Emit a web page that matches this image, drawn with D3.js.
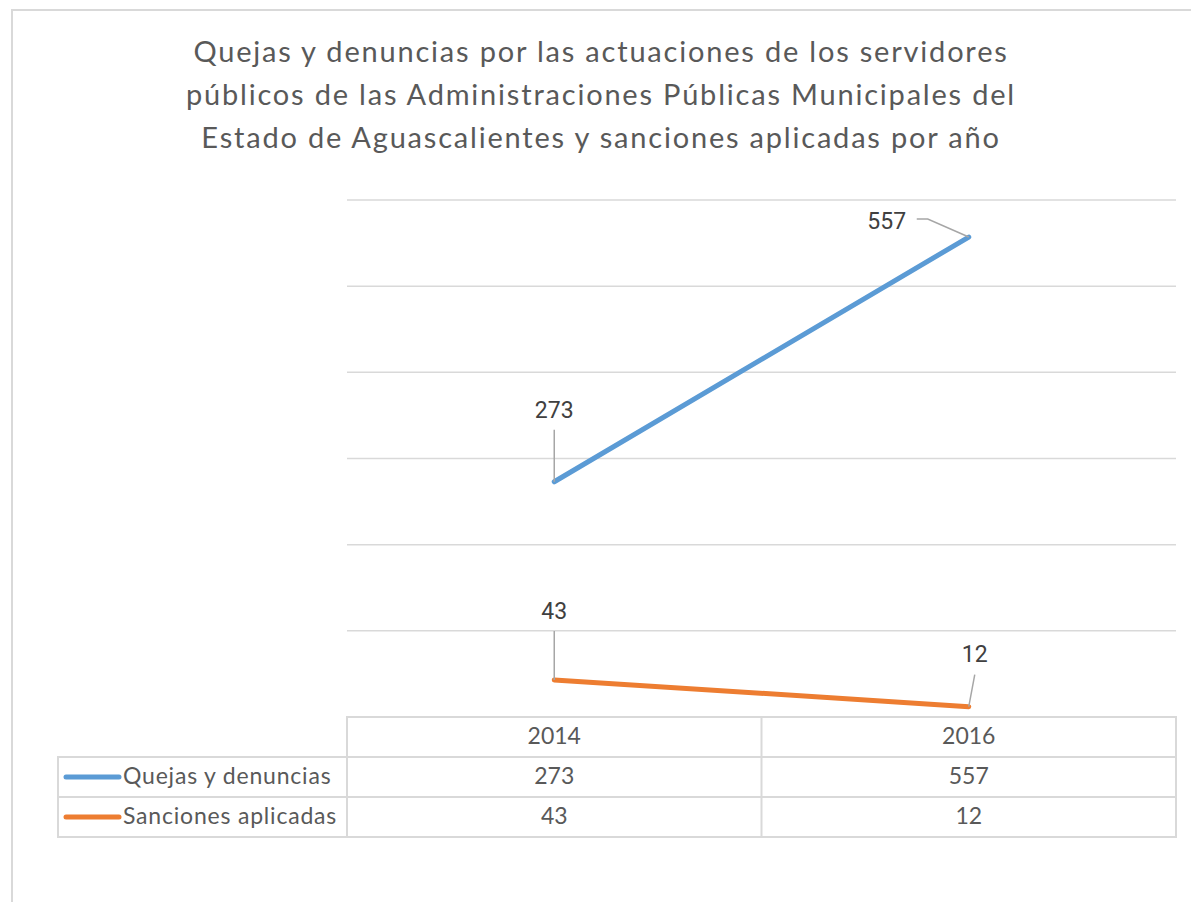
<!DOCTYPE html>
<html><head><meta charset="utf-8">
<script src="https://cdn.jsdelivr.net/npm/d3@7"></script>
<style>html,body{margin:0;padding:0;background:#fff;}svg{display:block;}</style>
</head><body>
<script>
const years = ["2014", "2016"];
const seriesNames = ["Quejas y denuncias", "Sanciones aplicadas"];
const quejas = [273, 557];
const sanciones = [43, 12];
const yTicks = [0, 100, 200, 300, 400, 500, 600];
const titleLines = [
  "Quejas y denuncias por las actuaciones de los servidores",
  "públicos de las Administraciones Públicas Municipales del",
  "Estado de Aguascalientes y sanciones aplicadas por año"
];

const W = 1191, H = 902;
const colors = ["#5b9bd5", "#ed7d31"];
const series = [quejas, sanciones];
const font = "Lato, 'Noto Sans', sans-serif";

const svg = d3.select("body").append("svg").attr("width", W).attr("height", H);

// outer frame
svg.append("rect").attr("x", 12).attr("y", 10).attr("width", W).attr("height", H)
  .attr("fill", "none").attr("stroke", "#d9d9d9").attr("stroke-width", 2);

// title
svg.append("g").selectAll("text").data(titleLines).join("text")
  .attr("x", 601).attr("y", (d, i) => 62 + i * 43)
  .attr("text-anchor", "middle")
  .attr("font-family", font).attr("font-size", 29).attr("letter-spacing", 1.8).attr("fill", "#595959")
  .text(d => d);

const x0 = 347, x1 = 1176, yTop = 200, yBot = 717;
const x = d3.scaleBand().domain(years).range([x0, x1]);
const y = d3.scaleLinear().domain([0, 600]).range([yBot, yTop]);
const cx = d => x(d) + x.bandwidth() / 2;

// gridlines
svg.append("g").selectAll("line").data(yTicks.filter(t => t > 0)).join("line")
  .attr("x1", x0).attr("x2", x1)
  .attr("y1", d => y(d)).attr("y2", d => y(d))
  .attr("stroke", "#d9d9d9").attr("stroke-width", 1.5);

// data table
const rowH = 40;
const tg = svg.append("g").attr("stroke", "#d9d9d9").attr("stroke-width", 2).attr("fill", "none");
tg.append("rect").attr("x", x0).attr("y", yBot).attr("width", x1 - x0).attr("height", rowH * 3);
tg.append("rect").attr("x", 58).attr("y", yBot + rowH).attr("width", x1 - 58).attr("height", rowH * 2);
tg.append("line").attr("x1", 58).attr("x2", x1).attr("y1", yBot + rowH * 2).attr("y2", yBot + rowH * 2);
tg.selectAll("line.v").data(years.slice(1)).join("line").attr("class", "v")
  .attr("x1", d => x(d)).attr("x2", d => x(d)).attr("y1", yBot).attr("y2", yBot + rowH * 3);

const cellText = svg.append("g").attr("font-family", font).attr("font-size", 23).attr("fill", "#595959")
  .attr("text-anchor", "middle");
cellText.selectAll("text.h").data(years).join("text").attr("class", "h")
  .attr("x", d => cx(d)).attr("y", yBot + rowH / 2 + 7).text(d => d);
series.forEach((s, si) => {
  cellText.selectAll("text.r" + si).data(s).join("text").attr("class", "r" + si)
    .attr("x", (d, i) => cx(years[i])).attr("y", yBot + rowH * (si + 1) + rowH / 2 + 7).text(d => d);
});

// legend keys in table
const lg = svg.append("g");
seriesNames.forEach((n, si) => {
  const yy = yBot + rowH * (si + 1) + rowH / 2;
  lg.append("line").attr("x1", 66).attr("x2", 119).attr("y1", yy).attr("y2", yy)
    .attr("stroke", colors[si]).attr("stroke-width", 5).attr("stroke-linecap", "round");
  lg.append("text").attr("x", 123).attr("y", yy + 7)
    .attr("font-family", font).attr("font-size", 23).attr("letter-spacing", 0.8).attr("fill", "#595959").text(n);
});

// lines
const line = d3.line().x((d, i) => cx(years[i])).y(d => y(d));
series.forEach((s, si) => {
  svg.append("path").datum(s).attr("d", line).attr("fill", "none")
    .attr("stroke", colors[si]).attr("stroke-width", 5).attr("stroke-linecap", "round");
});

// data labels with leader lines (offsets relative to point)
const labels = [
  { s: 0, i: 0, tx: 0, ty: -64, pts: [[0, -52], [0, 0]] },
  { s: 0, i: 1, tx: -82, ty: -8, pts: [[-52, -18], [-41, -18], [0, 0]] },
  { s: 1, i: 0, tx: 0, ty: -61, pts: [[0, -49], [0, 0]] },
  { s: 1, i: 1, tx: 6, ty: -45, pts: [[6, -32], [0, 0]] }
];
const lbl = svg.append("g");
labels.forEach(L => {
  const v = series[L.s][L.i];
  const px = cx(years[L.i]), py = y(v);
  lbl.append("polyline").attr("points", L.pts.map(p => `${px + p[0]},${py + p[1]}`).join(" "))
    .attr("fill", "none").attr("stroke", "#a6a6a6").attr("stroke-width", 1.5);
  lbl.append("text").attr("x", px + L.tx).attr("y", py + L.ty)
    .attr("text-anchor", "middle").attr("font-family", "Roboto, sans-serif").attr("font-size", 23)
    .attr("fill", "#404040").text(v);
});
</script>
</body></html>
